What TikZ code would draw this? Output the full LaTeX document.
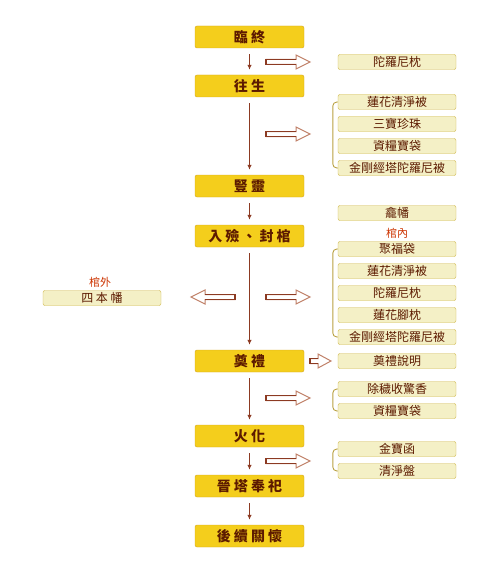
\documentclass[tikz,border=0pt]{standalone}
\usepackage{fontspec}
\newfontfamily\cjkmain[LetterSpace=22]{Noto Sans CJK TC}
\newfontfamily\cjkside{Noto Sans CJK TC}
\usetikzlibrary{arrows.meta}
\definecolor{mainfill}{HTML}{F4CE1C}
\definecolor{mainedge}{HTML}{D4A520}
\definecolor{sidefill}{HTML}{F4F0C6}
\definecolor{sideedge}{HTML}{CDB548}
\definecolor{inktext}{HTML}{5C1A00}
\definecolor{flowline}{HTML}{8C3A22}
\definecolor{headline}{HTML}{C08068}
\definecolor{bracketline}{HTML}{B8A040}
\definecolor{notetext}{HTML}{CC3300}
\tikzset{
  mainbox/.style={rectangle, rounded corners=2pt, draw=mainedge, fill=mainfill,
    minimum width=109pt, minimum height=22pt, inner sep=0pt, text=inktext,
    font=\cjkmain\bfseries\fontsize{14}{14}\selectfont},
  sidebox/.style={rectangle, rounded corners=2pt, draw=sideedge, fill=sidefill,
    minimum width=118pt, minimum height=15pt, inner sep=0pt, text=inktext,
    font=\cjkside\fontsize{12}{12}\selectfont},
  note/.style={inner sep=0pt, text=notetext, font=\cjkside\fontsize{11}{11}\selectfont},
  flow/.style={draw=flowline, line width=1pt, -{Latex[length=5pt,width=4.5pt]},
    shorten <=6pt, shorten >=5pt},
  bracket/.style={draw=bracketline, line width=0.9pt, rounded corners=4pt},
  hollow/.style={draw=headline, line width=1pt, fill=white, line join=miter},
  shaft/.style={draw=flowline, line width=1.1pt}
}
% hollow block arrow: start x, tip x, y, head length (signed)
\newcommand\hollowarr[4]{%
  \draw[hollow] (#1,#3-2.5) -- (#2-#4,#3-2.5) -- (#2-#4,#3-7) -- (#2,#3)
    -- (#2-#4,#3+7) -- (#2-#4,#3+2.5) -- (#1,#3+2.5) -- cycle;
  \draw[shaft] (#2-#4,#3-2.5) -- (#1,#3-2.5) -- (#1,#3+2.5) -- (#2-#4,#3+2.5);}
\begin{document}
\begin{tikzpicture}[x=1pt, y=-1pt]
    \useasboundingbox (0,0) rectangle (500,575);
    % main steps
    \node[mainbox] (linzhong)  at (249.5,37)  {臨終};
    \node[mainbox] (wangsheng) at (249.5,86)  {往生};
    \node[mainbox] (shuling)   at (249.5,186) {豎靈};
    \node[mainbox] (rulian)    at (249.5,236) {入殮、封棺};
    \node[mainbox] (dianli)    at (249.5,361) {奠禮};
    \node[mainbox] (huohua)    at (249.5,436) {火化};
    \node[mainbox] (jinta)     at (249.5,486) {晉塔奉祀};
    \node[mainbox] (houxu)     at (249.5,536) {後續關懷};
    \draw[flow] (linzhong) -- (wangsheng);
    \draw[flow] (wangsheng) -- (shuling);
    \draw[flow] (shuling) -- (rulian);
    \draw[flow] (rulian) -- (dianli);
    \draw[flow] (dianli) -- (huohua);
    \draw[flow] (huohua) -- (jinta);
    \draw[flow] (jinta) -- (houxu);
    % items
    \node[sidebox] (tuoluo)   at (397,62)  {陀羅尼枕};
    \node[sidebox] (lianhua)  at (397,102) {蓮花清淨被};
    \node[sidebox] (sanbao)   at (397,124) {三寶珍珠};
    \node[sidebox] (ziliang)  at (397,146) {資糧寶袋};
    \node[sidebox] (jingang)  at (397,168) {金剛經塔陀羅尼被};
    \node[sidebox] (kanfan)   at (397,213) {龕幡};
    \node[note]    (guannei)  at (397,233) {棺內};
    \node[sidebox] (jufu)     at (397,249) {聚福袋};
    \node[sidebox] (lianhuab) at (397,271) {蓮花清淨被};
    \node[sidebox] (tuoluob)  at (397,293) {陀羅尼枕};
    \node[sidebox] (jiaozhen) at (397,315) {蓮花腳枕};
    \node[sidebox] (jingangb) at (397,337) {金剛經塔陀羅尼被};
    \node[sidebox] (shuoming) at (397,361) {奠禮說明};
    \node[sidebox] (chuhui)   at (397,389) {除穢收驚香};
    \node[sidebox] (ziliangb) at (397,411) {資糧寶袋};
    \node[sidebox] (jinbao)   at (397,449) {金寶函};
    \node[sidebox] (qingjing) at (397,471) {清淨盤};
    \node[note]    (guanwai)  at (100,282) {棺外};
    \node[sidebox, font=\cjkmain\fontsize{12}{12}\selectfont] (siben) at (102,298) {四本幡};
    % groups
    \draw[bracket] (lianhua.west) -- ++(-5,0) |- (jingang.west);
    \draw[bracket] (jufu.west) -- ++(-5,0) |- (jingangb.west);
    \draw[bracket] (chuhui.west) -- ++(-5,0) |- (ziliangb.west);
    \draw[bracket] (jinbao.west) -- ++(-5,0) |- (qingjing.west);
    % hollow arrows
    \hollowarr{266}{310}{62}{14}
    \hollowarr{266}{310}{134}{14}
    \hollowarr{266}{310}{297}{14}
    \hollowarr{235}{191}{297}{-14}
    \hollowarr{310}{331}{361}{13}
    \hollowarr{266}{310}{398}{14}
    \hollowarr{266}{310}{461}{14}
\end{tikzpicture}
\end{document}
